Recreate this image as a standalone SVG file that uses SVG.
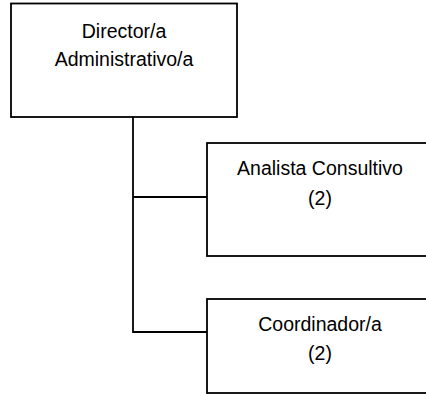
<svg xmlns="http://www.w3.org/2000/svg" width="426" height="394" viewBox="0 0 426 394">
<style>
.box{fill:#fff;stroke:#000;stroke-width:1.8}
.ln{fill:none;stroke:#000;stroke-width:1.8}
text{font-family:"Liberation Sans",Arial,sans-serif;font-size:19.5px;fill:#000;text-anchor:middle}
</style>
<rect width="426" height="394" fill="#fff"/>
<g id="connectors">
<path class="ln" d="M133,117 V332 H207"/>
<path class="ln" d="M133,197 H207"/>
</g>
<g id="director">
<rect class="box" x="11" y="3.5" width="226" height="113.5"/>
<text x="124" y="37.5">Director/a</text>
<text x="124" y="65.5">Administrativo/a</text>
</g>
<g id="analista">
<rect class="box" x="207" y="143" width="226" height="113"/>
<text x="320" y="175">Analista Consultivo</text>
<text x="320" y="205">(2)</text>
</g>
<g id="coordinador">
<rect class="box" x="207" y="299" width="226" height="94"/>
<text x="320" y="330.5">Coordinador/a</text>
<text x="320" y="360">(2)</text>
</g>
</svg>
